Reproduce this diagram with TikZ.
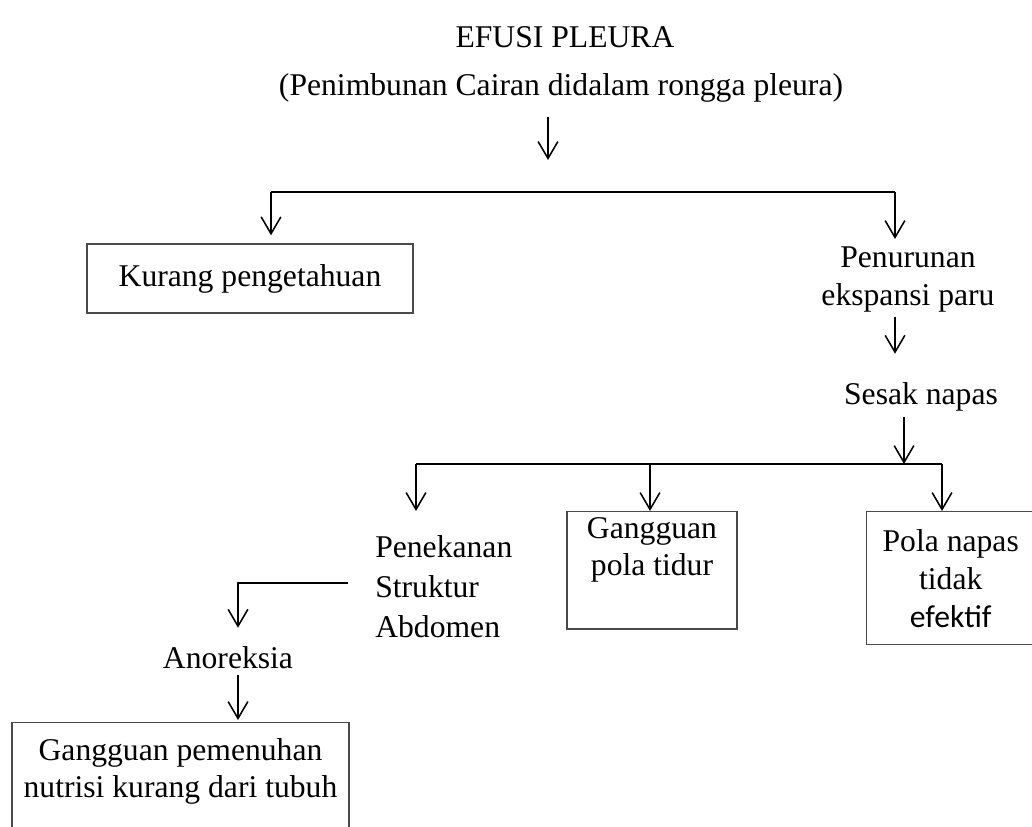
\documentclass[tikz,border=0pt]{standalone}
\usepackage{fontspec}
\setmainfont{Liberation Serif}
\newfontfamily\calibrifont{Carlito}
\usetikzlibrary{arrows.meta,positioning,calc}
\definecolor{boxgray}{HTML}{4A4A4A}

\tikzset{
  txt/.style={inner sep=0pt, align=center, font=\fontsize{22.5pt}{#1}\selectfont},
  txt/.default=25.6pt,
  box/.style={draw=boxgray, line width=1pt, inner xsep=4pt, align=center,
    font=\fontsize{22.5pt}{#1}\selectfont},
  box/.default=25.6pt,
  flow/.style={-{Straight Barb[length=12pt,width=14pt]}, line width=1.1pt},
  branch/.style={line width=1.4pt}
}

\begin{document}
\begin{tikzpicture}[x=0.025cm,y=-0.025cm]
  \path[use as bounding box, clip] (0,0) rectangle (1032,827);

  % titles
  \node[txt, anchor=base] (title) at (565,48) {EFUSI PLEURA};
  \node[txt, anchor=base] (cause) at (561,96) {(Penimbunan Cairan didalam rongga pleura)};
  \coordinate (t1) at (548,160);
  \draw[flow] (cause.south -| t1) ++(0,14) -- (t1);

  % first branching
  \coordinate (l1a) at (271,192);
  \coordinate (l1b) at (895,192);
  \draw[branch] (l1a) -- (l1b);
  \node[box, minimum width=8.15cm, minimum height=1.725cm] (kurang) at (250,278.5) {Kurang pengetahuan};
  \node[txt=27pt, anchor=north] (turun) at (908,247) {Penurunan\\ekspansi paru};
  \draw[flow, shorten >=0.2cm] (l1a) -- (l1a |- kurang.north);
  \draw[flow, shorten >=0.2cm] (l1b) -- (l1b |- turun.north);

  \node[txt, anchor=base] (sesak) at (921,404) {Sesak napas};
  \draw[flow, shorten <=0.1cm, shorten >=0.7cm] (turun.south -| l1b) -- (l1b |- sesak.north);

  % second branching
  \coordinate (l2a) at (416,464);
  \coordinate (l2b) at (942,464);
  \coordinate (s1) at (904,464);
  \draw[flow, shorten <=0.15cm] (sesak.south -| s1) -- (s1);
  \draw[branch] (l2a) -- (l2b);

  \node[txt=28.5pt, anchor=north west, align=left] (tekan) at (375,535) {Penekanan\\Struktur\\Abdomen};
  \node[box=26.3pt, anchor=north, inner ysep=4pt, minimum width=4.25cm] (tidur) at (652,511) {Gangguan\\pola tidur\\\strut};
  \node[box=27pt, anchor=north west, minimum width=4.2cm, minimum height=3.325cm] (pola) at (866,511) {Pola napas\\tidak\\{\calibrifont efektif}};
  \draw[flow, shorten >=0.6cm] (l2a) -- (l2a |- tekan.north);
  \draw[flow] (tidur.north |- l2a) ++(-2,0) -- ++(0,47);
  \draw[flow] (l2b) -- (l2b |- pola.north);

  % abdomen branch
  \coordinate (k) at (238,583);
  \node[txt, anchor=base] (anor) at (228,668) {Anoreksia};
  \node[box=26.5pt, anchor=north, inner ysep=11pt, minimum width=8.425cm] (nutrisi) at (180.5,722) {Gangguan pemenuhan\\nutrisi kurang dari tubuh\\\strut};
  \draw[flow, shorten <=0.675cm, shorten >=0.45cm] (tekan.west |- k) -- (k) -- (k |- anor.north);
  \draw[flow, shorten <=0.15cm, shorten >=0.05cm] (anor.south -| k) -- (k |- nutrisi.north);
\end{tikzpicture}
\end{document}
